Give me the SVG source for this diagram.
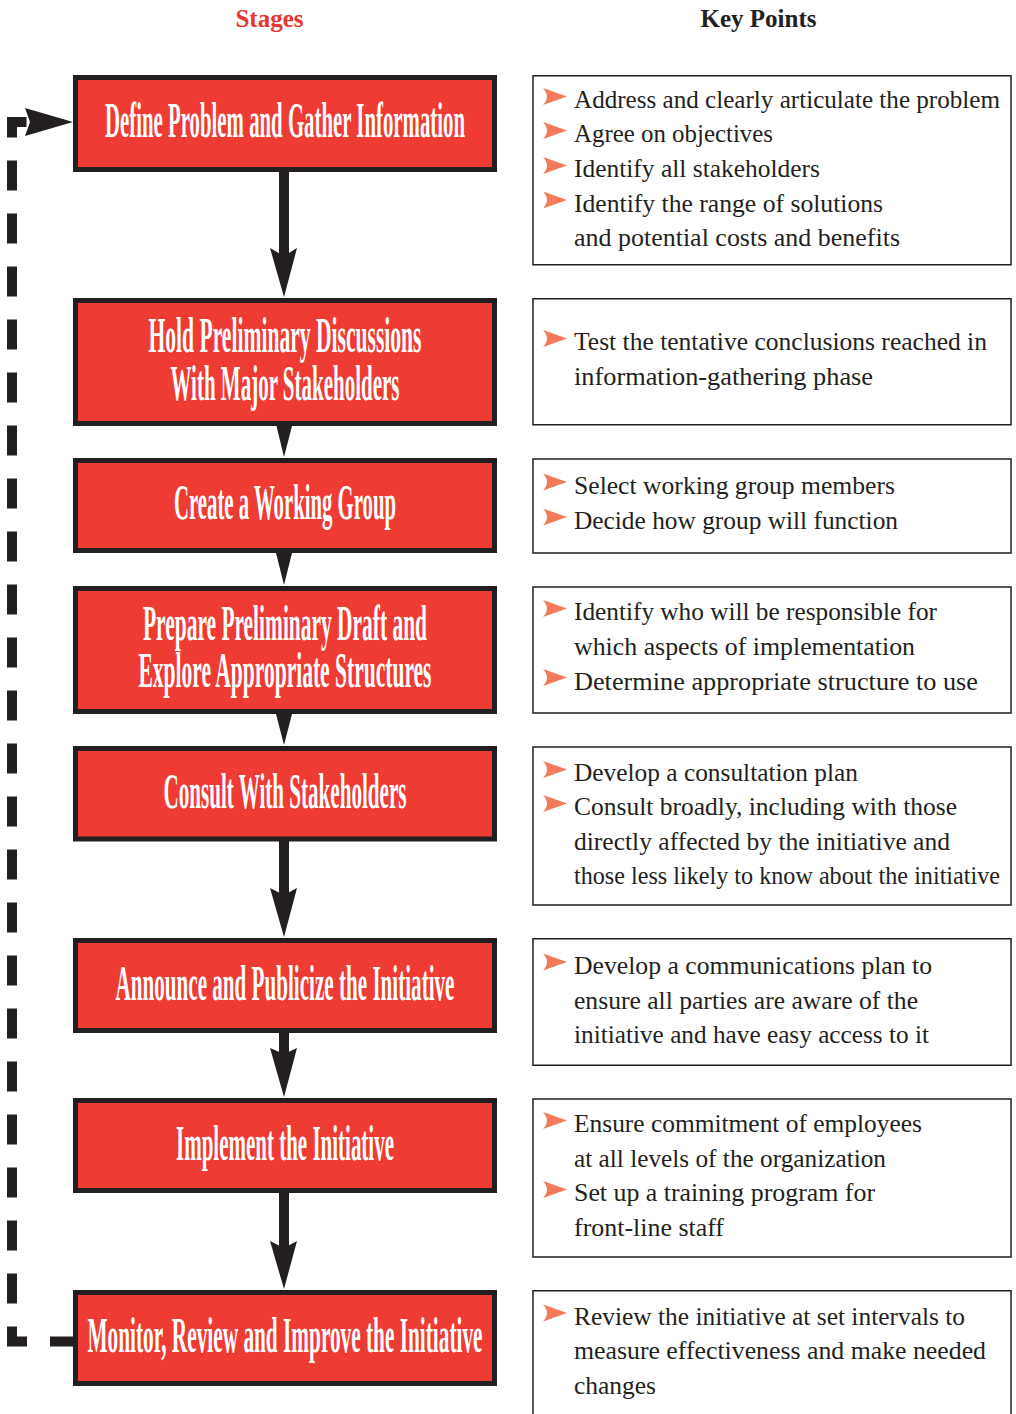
<svg xmlns="http://www.w3.org/2000/svg" xmlns:xlink="http://www.w3.org/1999/xlink" width="1016" height="1414" viewBox="0 0 1016 1414">
<style>
.stage rect{fill:#EE3B33;stroke:#231F20;stroke-width:5}
.st{font-family:'Liberation Serif',serif;font-size:50px;font-weight:bold;fill:#FFFFFF;text-anchor:middle}
.kbox{fill:#FFFFFF;stroke:#231F20;stroke-width:1.5}
.kt{font-family:'Liberation Serif',serif;font-size:26px;fill:#231F20}
.hd{font-family:'Liberation Serif',serif;font-size:25px;font-weight:bold;text-anchor:middle}
.bul{fill:#F37A5A}
.conn{fill:#231F20;stroke:none}
</style>
<defs>
<path id="b" class="bul" d="M0,0 L24,8.5 L0,17 Q8,8.5 0,0 Z"/>
</defs>

<g id="headers">
<text class="hd" x="269.5" y="27" fill="#E8352E">Stages</text>
<text class="hd" x="758.5" y="27" fill="#231F20">Key Points</text>
</g>

<g id="connectors">
<path d="M73,1341.5 H12 V122 H27" fill="none" stroke="#231F20" stroke-width="10" stroke-dasharray="30 23" stroke-dashoffset="7"/>
<polygon class="conn" points="25,108 73,122 25,136 30,122"/>
<rect class="conn" x="279" y="170" width="10" height="88"/>
<polygon class="conn" points="270,248 284,256 297,248 284,297"/>
<polygon class="conn" points="276,424 292.5,424 284,457"/>
<polygon class="conn" points="275.5,551 292.5,551 284,585"/>
<polygon class="conn" points="275.5,712 292.5,712 284,745"/>
<rect class="conn" x="279" y="840" width="10" height="56"/>
<polygon class="conn" points="270,888 284,895 297,888 284,937"/>
<rect class="conn" x="279" y="1032" width="10" height="26"/>
<polygon class="conn" points="270,1048 284,1054 297,1048 284,1097"/>
<rect class="conn" x="279" y="1192" width="10" height="58"/>
<polygon class="conn" points="270,1241 284,1248 297,1241 284,1289"/>
</g>

<g id="stage1" class="stage">
<rect x="75.5" y="77.5" width="419" height="92"/>
<text class="st" x="285" y="137" textLength="360" lengthAdjust="spacingAndGlyphs">Define Problem and Gather Information</text>
</g>
<g id="stage2" class="stage">
<rect x="75.5" y="300.5" width="419" height="123"/>
<text class="st" x="285" y="352" textLength="273" lengthAdjust="spacingAndGlyphs">Hold Preliminary Discussions</text>
<text class="st" x="285" y="400" textLength="229" lengthAdjust="spacingAndGlyphs">With Major Stakeholders</text>
</g>
<g id="stage3" class="stage">
<rect x="75.5" y="460.5" width="419" height="90"/>
<text class="st" x="285" y="519" textLength="222" lengthAdjust="spacingAndGlyphs">Create a Working Group</text>
</g>
<g id="stage4" class="stage">
<rect x="75.5" y="588.5" width="419" height="123"/>
<text class="st" x="285" y="640" textLength="284" lengthAdjust="spacingAndGlyphs">Prepare Preliminary Draft and</text>
<text class="st" x="285" y="687" textLength="293" lengthAdjust="spacingAndGlyphs">Explore Appropriate Structures</text>
</g>
<g id="stage5" class="stage">
<rect x="75.5" y="748.5" width="419" height="90.5"/>
<text class="st" x="285" y="808" textLength="243" lengthAdjust="spacingAndGlyphs">Consult With Stakeholders</text>
</g>
<g id="stage6" class="stage">
<rect x="75.5" y="940.5" width="419" height="90"/>
<text class="st" x="285" y="1000" textLength="339" lengthAdjust="spacingAndGlyphs">Announce and Publicize the Initiative</text>
</g>
<g id="stage7" class="stage">
<rect x="75.5" y="1100.5" width="419" height="90"/>
<text class="st" x="285" y="1160" textLength="218" lengthAdjust="spacingAndGlyphs">Implement the Initiative</text>
</g>
<g id="stage8" class="stage">
<rect x="75.5" y="1292.5" width="419" height="91"/>
<text class="st" x="285" y="1352" textLength="395" lengthAdjust="spacingAndGlyphs">Monitor, Review and Improve the Initiative</text>
</g>

<g id="keys1">
<rect class="kbox" x="533" y="75.75" width="478" height="189"/>
<use href="#b" x="543" y="88"/>
<use href="#b" x="543" y="122"/>
<use href="#b" x="543" y="157"/>
<use href="#b" x="543" y="191.5"/>
<text class="kt" x="574" y="108" textLength="426" lengthAdjust="spacingAndGlyphs">Address and clearly articulate the problem</text>
<text class="kt" x="574" y="142" textLength="199" lengthAdjust="spacingAndGlyphs">Agree on objectives</text>
<text class="kt" x="574" y="177" textLength="246" lengthAdjust="spacingAndGlyphs">Identify all stakeholders</text>
<text class="kt" x="574" y="211.5" textLength="309" lengthAdjust="spacingAndGlyphs">Identify the range of solutions</text>
<text class="kt" x="574" y="245.5" textLength="326" lengthAdjust="spacingAndGlyphs">and potential costs and benefits</text>
</g>
<g id="keys2">
<rect class="kbox" x="533" y="298.75" width="478" height="126"/>
<use href="#b" x="543" y="330"/>
<text class="kt" x="574" y="350" textLength="413" lengthAdjust="spacingAndGlyphs">Test the tentative conclusions reached in</text>
<text class="kt" x="574" y="385" textLength="299" lengthAdjust="spacingAndGlyphs">information-gathering phase</text>
</g>
<g id="keys3">
<rect class="kbox" x="533" y="459" width="478" height="94"/>
<use href="#b" x="543" y="473.5"/>
<use href="#b" x="543" y="508.5"/>
<text class="kt" x="574" y="493.5" textLength="321" lengthAdjust="spacingAndGlyphs">Select working group members</text>
<text class="kt" x="574" y="528.5" textLength="324" lengthAdjust="spacingAndGlyphs">Decide how group will function</text>
</g>
<g id="keys4">
<rect class="kbox" x="533" y="587" width="478" height="126"/>
<use href="#b" x="543" y="600"/>
<use href="#b" x="543" y="669"/>
<text class="kt" x="574" y="620" textLength="363" lengthAdjust="spacingAndGlyphs">Identify who will be responsible for</text>
<text class="kt" x="574" y="655" textLength="341" lengthAdjust="spacingAndGlyphs">which aspects of implementation</text>
<text class="kt" x="574" y="689.5" textLength="404" lengthAdjust="spacingAndGlyphs">Determine appropriate structure to use</text>
</g>
<g id="keys5">
<rect class="kbox" x="533" y="747" width="478" height="158"/>
<use href="#b" x="543" y="761"/>
<use href="#b" x="543" y="795"/>
<text class="kt" x="574" y="781" textLength="284" lengthAdjust="spacingAndGlyphs">Develop a consultation plan</text>
<text class="kt" x="574" y="815" textLength="383" lengthAdjust="spacingAndGlyphs">Consult broadly, including with those</text>
<text class="kt" x="574" y="849.5" textLength="376" lengthAdjust="spacingAndGlyphs">directly affected by the initiative and</text>
<text class="kt" x="574" y="883.5" textLength="426" lengthAdjust="spacingAndGlyphs">those less likely to know about the initiative</text>
</g>
<g id="keys6">
<rect class="kbox" x="533" y="938.75" width="478" height="126.5"/>
<use href="#b" x="543" y="953.5"/>
<text class="kt" x="574" y="973.5" textLength="358" lengthAdjust="spacingAndGlyphs">Develop a communications plan to</text>
<text class="kt" x="574" y="1008.5" textLength="344" lengthAdjust="spacingAndGlyphs">ensure all parties are aware of the</text>
<text class="kt" x="574" y="1043" textLength="355" lengthAdjust="spacingAndGlyphs">initiative and have easy access to it</text>
</g>
<g id="keys7">
<rect class="kbox" x="533" y="1099" width="478" height="158"/>
<use href="#b" x="543" y="1112"/>
<use href="#b" x="543" y="1181"/>
<text class="kt" x="574" y="1132" textLength="348" lengthAdjust="spacingAndGlyphs">Ensure commitment of employees</text>
<text class="kt" x="574" y="1166.5" textLength="312" lengthAdjust="spacingAndGlyphs">at all levels of the organization</text>
<text class="kt" x="574" y="1201" textLength="301" lengthAdjust="spacingAndGlyphs">Set up a training program for</text>
<text class="kt" x="574" y="1235.5" textLength="150" lengthAdjust="spacingAndGlyphs">front-line staff</text>
</g>
<g id="keys8">
<path class="kbox" d="M533,1420 V1290.75 H1011 V1420"/>
<use href="#b" x="543" y="1304.5"/>
<text class="kt" x="574" y="1324.5" textLength="391" lengthAdjust="spacingAndGlyphs">Review the initiative at set intervals to</text>
<text class="kt" x="574" y="1359" textLength="412" lengthAdjust="spacingAndGlyphs">measure effectiveness and make needed</text>
<text class="kt" x="574" y="1393.5" textLength="82" lengthAdjust="spacingAndGlyphs">changes</text>
</g>
</svg>
